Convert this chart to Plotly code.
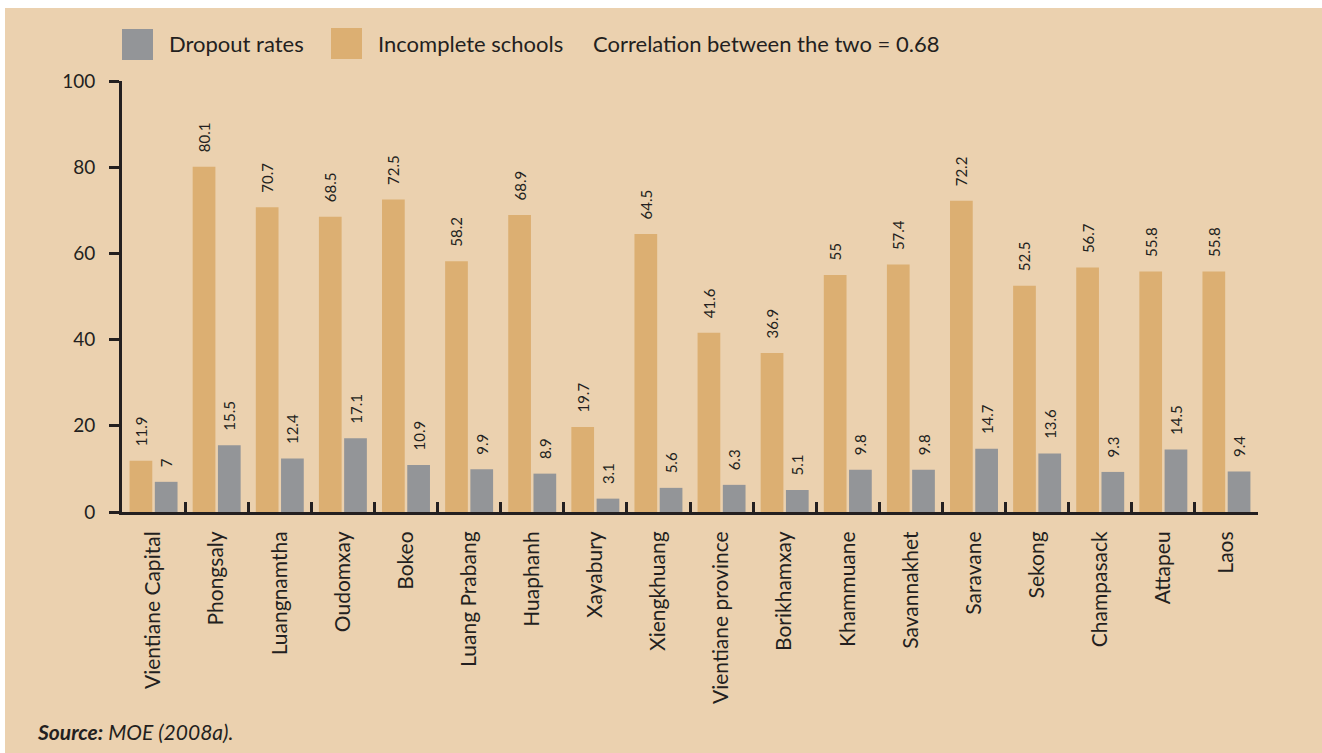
import plotly.graph_objects as go

provinces = [
    "Vientiane Capital", "Phongsaly", "Luangnamtha", "Oudomxay", "Bokeo",
    "Luang Prabang", "Huaphanh", "Xayabury", "Xiengkhuang", "Vientiane province",
    "Borikhamxay", "Khammuane", "Savannakhet", "Saravane", "Sekong",
    "Champasack", "Attapeu", "Laos",
]
incomplete_schools = [11.9, 80.1, 70.7, 68.5, 72.5, 58.2, 68.9, 19.7, 64.5, 41.6,
                      36.9, 55, 57.4, 72.2, 52.5, 56.7, 55.8, 55.8]
dropout_rates = [7, 15.5, 12.4, 17.1, 10.9, 9.9, 8.9, 3.1, 5.6, 6.3,
                 5.1, 9.8, 9.8, 14.7, 13.6, 9.3, 14.5, 9.4]
y_ticks = [0, 20, 40, 60, 80, 100]

BG = "#EBD1AF"
ORANGE = "#DCAF72"
GREY = "#939598"
INK = "#231F20"
FONT = "Lato, 'Open Sans', sans-serif"

W, H = 1322, 753
ML, MR, MT, MB = 122, 64, 81, 241
PW, PH = W - ML - MR, H - MT - MB


def px_x(p):
    return (p - ML) / PW


def px_y(p):
    return (H - MB - p) / PH


def fmt(v):
    # leading non-breaking spaces lift the rotated label clear of the bar top
    return "\u00a0\u00a0\u00a0" + f"{v:g}"


fig = go.Figure()
fig.add_trace(go.Bar(
    x=provinces, y=incomplete_schools, name="Incomplete schools",
    marker=dict(color=ORANGE, line=dict(width=0)),
    text=[fmt(v) for v in incomplete_schools], textposition="outside",
    textangle=-90, constraintext="none",
    textfont=dict(size=15, color=INK, family=FONT),
    cliponaxis=False, showlegend=False,
))
fig.add_trace(go.Bar(
    x=provinces, y=dropout_rates, name="Dropout rates",
    marker=dict(color=GREY, line=dict(width=0)),
    text=[fmt(v) for v in dropout_rates], textposition="outside",
    textangle=-90, constraintext="none",
    textfont=dict(size=15, color=INK, family=FONT),
    cliponaxis=False, showlegend=False,
))

shapes = [
    # white margin strips around the panel
    dict(type="rect", xref="paper", yref="paper", x0=px_x(0), x1=px_x(5),
         y0=px_y(H), y1=px_y(0), fillcolor="white", line=dict(width=0), layer="below"),
    dict(type="rect", xref="paper", yref="paper", x0=px_x(0), x1=px_x(W),
         y0=px_y(8), y1=px_y(0), fillcolor="white", line=dict(width=0), layer="below"),
    # legend swatches
    dict(type="rect", xref="paper", yref="paper", x0=px_x(122), x1=px_x(153),
         y0=px_y(60), y1=px_y(29), fillcolor=GREY, line=dict(width=0)),
    dict(type="rect", xref="paper", yref="paper", x0=px_x(331), x1=px_x(362),
         y0=px_y(59), y1=px_y(28), fillcolor=ORANGE, line=dict(width=0)),
]

LEGEND_FONT = dict(size=22, color=INK, family=FONT)
annotations = [
    dict(text="Dropout rates", x=px_x(167), y=px_y(44), xref="paper", yref="paper",
         xanchor="left", yanchor="middle", showarrow=False, font=LEGEND_FONT),
    dict(text="Incomplete schools", x=px_x(376), y=px_y(44), xref="paper", yref="paper",
         xanchor="left", yanchor="middle", showarrow=False, font=LEGEND_FONT),
    dict(text="Correlation between the two = 0.68", x=px_x(591), y=px_y(44),
         xref="paper", yref="paper", xanchor="left", yanchor="middle", showarrow=False,
         font=LEGEND_FONT),
    dict(text="<b><i>Source:</i></b><i> MOE (2008a).</i>", x=px_x(35), y=px_y(731),
         xref="paper", yref="paper", xanchor="left", yanchor="middle", showarrow=False,
         font=dict(size=21, color=INK, family=FONT)),
]

fig.update_layout(
    width=W, height=H,
    margin=dict(l=ML, r=MR, t=MT, b=MB, pad=0),
    paper_bgcolor=BG, plot_bgcolor=BG,
    barmode="group", bargap=0.2, bargroupgap=0.1,
    font=dict(family=FONT, color=INK),
    showlegend=False,
    shapes=shapes, annotations=annotations,
)
fig.update_xaxes(
    type="category", showgrid=False, zeroline=False,
    showline=True, linecolor=INK, linewidth=3,
    ticks="inside", tickson="boundaries", ticklen=10, tickwidth=3, tickcolor=INK,
    tickangle=-90, tickfont=dict(size=21, color=INK, family=FONT),
    ticklabelstandoff=8,
)
fig.update_yaxes(
    range=[0, 100], tickvals=y_ticks, showgrid=False, zeroline=False,
    showline=True, linecolor=INK, linewidth=3,
    ticks="outside", ticklen=10, tickwidth=3, tickcolor=INK,
    tickfont=dict(size=19, color=INK, family=FONT),
    ticklabelstandoff=10,
)

fig.write_html("out.html")
